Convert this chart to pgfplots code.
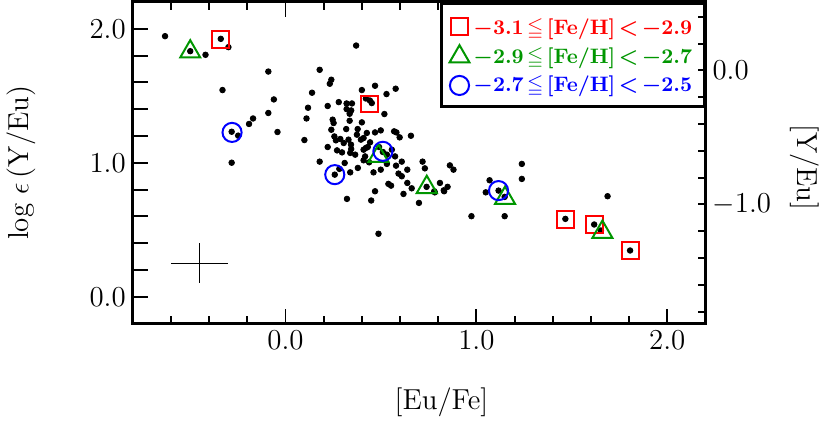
\documentclass[border=0pt]{standalone}
\usepackage{amssymb}
\usepackage{pgfplots}
\usepackage{pgfplotstable}
\pgfplotsset{compat=1.18}
\definecolor{fgreen}{RGB}{0,150,0}

% all stars: [Eu/Fe] vs log eps(Y/Eu)
\pgfplotstableread{
x y
-0.631 1.945
-0.499 1.833
-0.419 1.806
-0.339 1.925
-0.299 1.863
-0.090 1.681
-0.330 1.543
-0.090 1.372
-0.170 1.331
-0.191 1.290
-0.282 1.232
-0.248 1.203
-0.282 1.001
-0.061 1.473
-0.042 1.230
0.179 1.694
0.240 1.620
0.232 1.590
0.139 1.523
0.118 1.411
0.110 1.331
0.099 1.170
0.221 1.424
0.279 1.453
0.320 1.443
0.348 1.443
0.400 1.543
0.320 1.401
0.344 1.391
0.336 1.366
0.247 1.322
0.252 1.297
0.336 1.314
0.400 1.302
0.240 1.247
0.318 1.252
0.378 1.252
0.256 1.197
0.287 1.178
0.264 1.168
0.330 1.173
0.374 1.210
0.395 1.173
0.305 1.148
0.343 1.136
0.344 1.103
0.221 1.118
0.270 1.093
0.296 1.078
0.339 1.074
0.365 1.061
0.409 1.098
0.431 1.118
0.417 1.048
0.469 1.575
0.577 1.553
0.529 1.513
0.421 1.480
0.442 1.465
0.452 1.446
0.518 1.364
0.426 1.223
0.469 1.227
0.499 1.242
0.569 1.235
0.581 1.227
0.598 1.190
0.657 1.202
0.409 1.185
0.443 1.153
0.421 1.111
0.490 1.118
0.510 1.081
0.531 1.061
0.557 1.098
0.574 1.048
0.409 1.019
0.438 1.004
0.531 0.992
0.579 0.979
0.609 1.009
0.461 0.929
0.499 0.949
0.592 0.920
0.609 0.900
0.638 0.949
0.718 1.009
0.730 0.959
0.539 0.843
0.553 0.830
0.638 0.850
0.661 0.810
0.618 0.768
0.469 0.788
0.449 0.719
0.739 0.821
0.699 0.701
0.779 0.788
0.809 0.850
0.831 0.788
0.849 0.821
0.861 0.981
0.880 0.949
0.974 0.602
0.487 0.471
0.179 1.009
0.258 0.912
0.282 0.955
0.310 0.999
0.339 0.929
0.379 0.962
0.322 0.731
0.370 1.875
1.069 0.870
1.049 0.780
1.116 0.793
1.148 0.746
1.148 0.602
1.238 0.992
1.238 0.880
1.466 0.582
1.617 0.540
1.652 0.495
1.687 0.751
1.805 0.346
0.782 0.780
0.829 0.795
}\allstars

\begin{document}
\begin{tikzpicture}
\begin{axis}[
  scale only axis,
  width=287.5pt, height=161.5pt,
  xmin=-0.8, xmax=2.2, ymin=-0.2, ymax=2.2,
  font=\fontsize{14.5}{17}\selectfont,
  axis line style={line width=1.5pt},
  every tick/.style={black, line width=1pt},
  tick align=inside,
  major tick length=7.5pt, minor tick length=4pt,
  xtick={0,1,2}, xticklabels={0.0,1.0,2.0},
  minor xtick={-0.6,-0.4,-0.2,0.2,0.4,0.6,0.8,1.2,1.4,1.6,1.8},
  ytick={0,0.2,0.4,0.6,0.8,1.0,1.2,1.4,1.6,1.8,2.0},
  yticklabels={0.0,,,,,1.0,,,,,2.0},
  ytick pos=left,
  xlabel={[Eu/Fe]}, ylabel={log $\epsilon$\,(Y/Eu)},
  xlabel style={at={(axis description cs:0.539,-0.245)}, anchor=center},
  ylabel style={at={(axis description cs:-0.195,0.5)}, anchor=center},
  clip mode=individual,
  legend style={at={(axis description cs:1,1)}, anchor=north east,
    draw=black, line width=1.5pt, inner xsep=4pt, inner ysep=4pt,
    font=\fontsize{10.5}{13.75}\selectfont\bfseries\boldmath,
    row sep=1pt},
  legend cell align=left,
]
\coordinate (O) at (rel axis cs:0,0);
\addplot[only marks, mark=*, mark size=1.4pt, black, forget plot] table {\allstars};
\addplot[only marks, mark=square, mark size=4.25pt, red, line width=1pt]
  coordinates {(-0.339,1.921) (0.439,1.439) (1.468,0.579) (1.617,0.540) (1.807,0.348)};
\addplot[only marks, mark=triangle, mark size=5.8pt, fgreen, line width=1pt]
  coordinates {(-0.499,1.829) (0.487,1.050) (0.740,0.818) (1.150,0.737) (1.660,0.483)};
\addplot[only marks, mark=o, mark size=4.8pt, blue, line width=1pt]
  coordinates {(-0.280,1.227) (0.258,0.912) (0.510,1.086) (1.116,0.793)};
\addplot[black, line width=0.8pt, mark=none, forget plot,
  error bars/.cd, x dir=both, x explicit, y dir=both, y explicit,
  error mark=none, error bar style={line width=0.8pt}]
  coordinates {(-0.45,0.25) +- (0.15,0.15)};
\legend{\rule{0pt}{9.5pt}\textcolor{red}{$-$3.1\,$\leqq$\,[Fe/H]\,$<$\,$-$2.9},
        \textcolor{fgreen}{$-$2.9\,$\leqq$\,[Fe/H]\,$<$\,$-$2.7},
        \textcolor{blue}{$-$2.7\,$\leqq$\,[Fe/H]\,$<$\,$-$2.5}}
\end{axis}
\begin{axis}[
  scale only axis,
  width=287.5pt, height=161.5pt,
  xmin=-0.8, xmax=2.2, ymin=-1.89, ymax=0.51,
  font=\fontsize{14.5}{17}\selectfont,
  axis x line=none, axis y line*=right,
  axis line style={line width=1.5pt, -},
  every tick/.style={black, line width=1pt},
  tick align=inside,
  major tick length=4pt, minor tick length=4pt,
  ytick={-1,0}, yticklabels={$-$1.0,0.0},
  minor ytick={-1.8,-1.6,-1.4,-1.2,-0.8,-0.6,-0.4,-0.2,0.2,0.4},
  ylabel={[Y/Eu]},
  ylabel style={at={(axis description cs:1.174,0.486)}, anchor=center, rotate=180},
]
\end{axis}
\path (O) ++(-65pt,-49pt) rectangle ++(415pt,211.5pt);
\end{tikzpicture}
\end{document}
